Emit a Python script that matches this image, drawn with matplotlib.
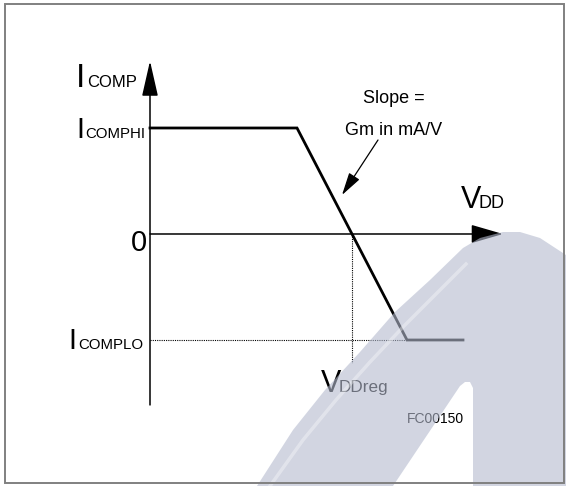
import matplotlib
matplotlib.use("Agg")
import matplotlib.pyplot as plt
from matplotlib.patches import Polygon, Rectangle
from matplotlib import font_manager

plt.rcParams['font.family'] = ['Liberation Sans', 'DejaVu Sans']
_names = {f.name for f in font_manager.fontManager.ttflist}
NARROW = ['Liberation Sans Narrow', 'Liberation Sans'] if 'Liberation Sans Narrow' in _names \
    else ['Liberation Sans', 'DejaVu Sans']

# ---- data (schematic units) ----
vdd_pts = [0.0, 1.47, 2.57, 3.13]      # VDD breakpoints of the transfer curve
icomp_pts = [1.0, 1.0, -1.0, -1.0]      # ICOMP values (HI, HI, LO, LO)
v_reg = 2.02                            # VDDreg (zero crossing)
i_hi = 1.0
i_lo = -1.0
y_axis_range = [-1.613, 1.632]
x_axis_end = 3.53

W, H = 566, 486
fig = plt.figure(figsize=(W / 100, H / 100), dpi=100)
ax = fig.add_axes([0, 0, 1, 1])
ax.set_xlim(-1.5, 4.16)
ax.set_ylim(-2.3774, 2.2075)
ax.axis('off')

def P(x, y):
    return (x / W, 1 - y / H)

# axes with arrows
ax.annotate('', xy=(0, y_axis_range[1]), xytext=(0, y_axis_range[0]),
            arrowprops=dict(arrowstyle='-|>,head_length=2.2,head_width=0.5',
                            mutation_scale=10, lw=1.1, color='black',
                            shrinkA=0, shrinkB=0))
ax.annotate('', xy=(x_axis_end, 0), xytext=(0, 0),
            arrowprops=dict(arrowstyle='-|>,head_length=2.0,head_width=0.58',
                            mutation_scale=10, lw=1.1, color='black',
                            shrinkA=0, shrinkB=0))

# dotted guides
ax.plot([0, vdd_pts[2]], [i_lo, i_lo], color='black', lw=0.8, ls=(0, (1, 1)))
ax.plot([v_reg, v_reg], [0, -1.22], color='black', lw=0.8, ls=(0, (1, 1)))

# transfer curve
ax.plot(vdd_pts, icomp_pts, color='black', lw=2.0, solid_joinstyle='miter')

# slope annotation arrow
ax.annotate('', xy=P(342, 195), xytext=P(378, 140),
            xycoords='figure fraction', textcoords='figure fraction',
            arrowprops=dict(arrowstyle='-|>,head_length=1.4,head_width=0.38',
                            mutation_scale=10, lw=0.9, color='black',
                            shrinkA=0, shrinkB=0))

def txt(x, y, s, fs, ha='left', color='black', family=None):
    kw = {}
    if family is not None:
        kw['family'] = family
    fig.text(*P(x, y), s, fontsize=fs, ha=ha, va='baseline', color=color, **kw)

# labels
txt(76, 87, 'I', 24)
txt(87.5, 87, 'COMP', 12)
txt(76, 138, 'I', 21)
txt(145, 138, 'COMPHI', 10.8, ha='right')
txt(147, 251, '0', 21, ha='right')
txt(68, 349, 'I', 21)
txt(143, 349, 'COMPLO', 10.8, ha='right')
txt(461, 208, 'V', 22, family=NARROW)
txt(479, 208, 'DD', 13)
txt(321, 392, 'V', 22, family=NARROW)
txt(339, 392, 'DDreg', 12.3)
txt(394, 103, 'Slope =', 13, ha='center')
txt(394, 135, 'Gm in mA/V', 13, ha='center')
txt(407, 423, 'FC00150', 10)

# watermark shape (decorative overlay)
wm = [(257, 486), (293, 430), (325, 390), (360, 352), (395, 312), (430, 280),
      (463, 248), (480, 238), (503, 232), (520, 232), (540, 238), (566, 255),
      (566, 486), (473, 486), (473, 388), (470, 382), (465, 382), (460, 386),
      (393, 486)]
fig.patches.append(Polygon([P(x, y) for x, y in wm], closed=True,
                           transform=fig.transFigure,
                           facecolor=(180/255, 186/255, 206/255),
                           edgecolor='none', alpha=0.6, zorder=10))
hl = [(270, 486), (303, 440), (336, 400), (370, 362), (404, 326), (438, 292), (466, 264)]
fig.lines.append(plt.Line2D([P(x, y)[0] for x, y in hl], [P(x, y)[1] for x, y in hl],
                            transform=fig.transFigure, color='white', alpha=0.35,
                            lw=2.5, zorder=11))

# frame
fig.patches.append(Rectangle(P(5, 483), 559 / W, 479 / H, transform=fig.transFigure,
                             fill=False, edgecolor='#808080', lw=1.4, zorder=12))

fig.savefig('out.png', dpi=100)
